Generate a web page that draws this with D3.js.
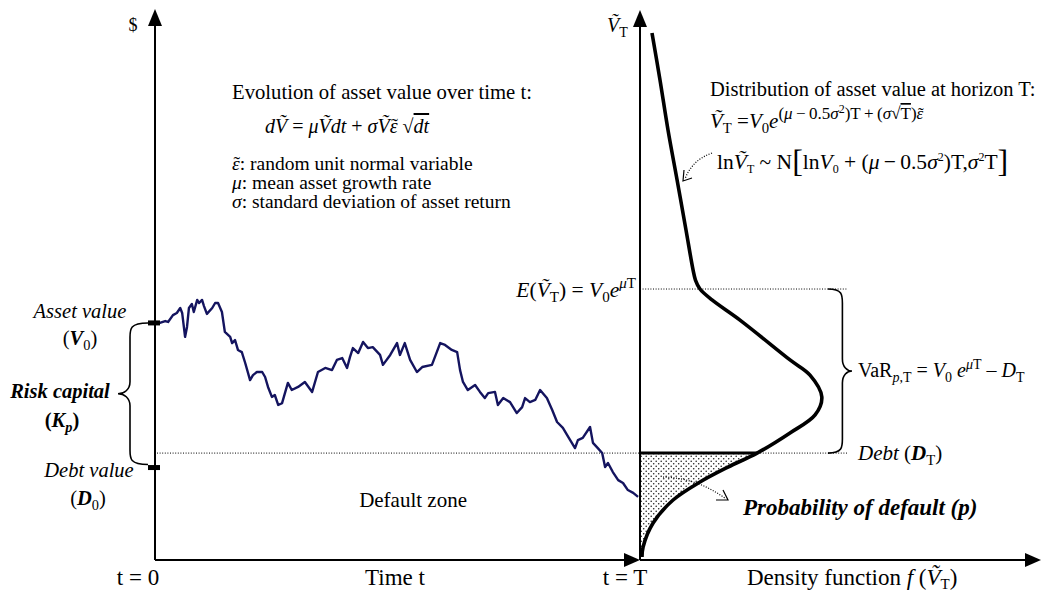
<!DOCTYPE html>
<html>
<head>
<meta charset="utf-8">
<script src="https://cdn.jsdelivr.net/npm/d3@7"></script>
<style>
  body { margin: 0; background: #fff; }
  svg { display: block; font-family: "Liberation Serif", "Times New Roman", serif; }
</style>
</head>
<body>
<svg id="chart" width="1043" height="594"></svg>
<script>
// asset value path over time (t as share of horizon T, value with V0 = 100)
const walkT = [0.004, 0.010, 0.021, 0.027, 0.037, 0.045, 0.052, 0.056, 0.062, 0.066, 0.070, 0.076, 0.080, 0.087, 0.091,
  0.097, 0.101, 0.107, 0.118, 0.124, 0.130, 0.138, 0.144, 0.155, 0.159, 0.165, 0.171, 0.179, 0.186, 0.196, 0.202, 0.210,
  0.221, 0.227, 0.233, 0.241, 0.247, 0.254, 0.262, 0.274, 0.282, 0.295, 0.309, 0.324, 0.336, 0.351, 0.365, 0.375, 0.386,
  0.396, 0.402, 0.408, 0.419, 0.429, 0.439, 0.449, 0.464, 0.470, 0.485, 0.499, 0.505, 0.515, 0.526, 0.540, 0.551, 0.571,
  0.588, 0.598, 0.612, 0.623, 0.629, 0.635, 0.645, 0.660, 0.670, 0.680, 0.687, 0.701, 0.707, 0.718, 0.732, 0.746, 0.757,
  0.763, 0.773, 0.784, 0.794, 0.808, 0.819, 0.829, 0.841, 0.852, 0.866, 0.872, 0.882, 0.897, 0.903, 0.913, 0.922, 0.928,
  0.934, 0.944, 0.955, 0.965, 0.975, 0.986, 0.996];
const walkV = [100.0, 100.0, 100.8, 100.4, 103.3, 104.2, 106.3, 104.2, 94.1, 98.3, 106.3, 108.0, 104.6, 109.7, 108.4,
  109.7, 107.1, 103.8, 106.3, 108.4, 108.4, 104.6, 96.2, 94.1, 91.5, 92.8, 88.6, 87.7, 83.1, 75.9, 78.0, 79.3,
  79.3, 77.2, 73.0, 68.8, 69.6, 65.4, 66.2, 74.7, 71.7, 73.0, 75.1, 70.9, 79.3, 81.0, 80.1, 84.4, 85.2,
  81.0, 85.6, 89.4, 87.3, 92.0, 89.4, 89.8, 86.5, 82.3, 86.5, 91.5, 86.5, 91.5, 84.4, 79.3, 81.4, 82.3,
  91.5, 90.7, 88.6, 87.7, 80.1, 75.1, 71.7, 73.8, 70.9, 68.3, 70.4, 70.9, 65.4, 68.3, 66.6, 62.0, 64.5,
  68.3, 66.6, 67.5, 71.7, 68.3, 63.3, 58.2, 55.7, 51.9, 47.2, 50.6, 51.5, 56.1, 49.4, 47.2, 45.1, 39.2,
  40.9, 37.1, 33.7, 32.5, 29.5, 28.3, 26.6];

// density of the asset value at horizon T (value level -> density, peak = 1)
const densV = [1.3, 5.5, 15.6, 25.3, 32.9, 39.2, 45.1, 53.6, 61.2, 68.8, 78.0, 84.4, 101.2, 109.7, 114.3, 118.1, 122.3, 139.2, 160.3, 181.4, 202.5, 222.3];
const densF = [0.011, 0.017, 0.072, 0.182, 0.330, 0.484, 0.644, 0.825, 0.963, 1.000, 0.935, 0.825, 0.550, 0.396, 0.330, 0.305, 0.292, 0.253, 0.204, 0.154, 0.110, 0.066];

// key levels
const V0 = 100, D0 = 39, DT = 45.1, EVT = 114.3, VMAX = 232;

const svg = d3.select('#chart');
svg.append('rect').attr('width', 1043).attr('height', 594).attr('fill', '#fff');

const xT = d3.scaleLinear().domain([0, 1]).range([155, 640]);
const yV = d3.scaleLinear().domain([0, VMAX]).range([560, 10]);
const xD = d3.scaleLinear().domain([0, 2.2]).range([640, 1040]);

const walk = walkT.map((t, i) => ({ t, v: walkV[i] }));
const dens = densV.map((v, i) => ({ v, f: densF[i] }));

// stipple pattern for the default probability
const defs = svg.append('defs');
const pat = defs.append('pattern').attr('id', 'dots').attr('patternUnits', 'userSpaceOnUse')
  .attr('width', 5).attr('height', 5);
pat.append('circle').attr('cx', 1.2).attr('cy', 1.2).attr('r', 0.8).attr('fill', '#222');
pat.append('circle').attr('cx', 3.7).attr('cy', 3.7).attr('r', 0.8).attr('fill', '#222');

const curve = d3.curveCatmullRom.alpha(0.5);

// default area
svg.append('path')
  .datum(dens.filter(d => d.v <= DT))
  .attr('d', d3.area().curve(curve).y(d => yV(d.v)).x0(xD(0)).x1(d => xD(d.f)))
  .attr('fill', 'url(#dots)');

// dotted reference lines
const dotted = (x1, x2, y) => svg.append('line').attr('x1', x1).attr('x2', x2).attr('y1', y).attr('y2', y)
  .attr('stroke', '#000').attr('stroke-width', 1).attr('stroke-dasharray', '1,1.6');
dotted(xT(0) + 2, 848, yV(DT));
dotted(xD(0), 848, yV(EVT));

const fDebt = dens.find(d => d.v === DT).f;
svg.append('line').attr('x1', xD(0)).attr('x2', xD(fDebt)).attr('y1', yV(DT)).attr('y2', yV(DT))
  .attr('stroke', '#000').attr('stroke-width', 3);

// asset path
svg.append('path')
  .datum(walk)
  .attr('d', d3.line().x(d => xT(d.t)).y(d => yV(d.v)))
  .attr('fill', 'none').attr('stroke', '#14145f').attr('stroke-width', 2.4).attr('stroke-linejoin', 'round');

// density curve
svg.append('path')
  .datum(dens)
  .attr('d', d3.line().curve(curve).x(d => xD(d.f)).y(d => yV(d.v)))
  .attr('fill', 'none').attr('stroke', '#000').attr('stroke-width', 3.6);

// axes
const axis = (x1, y1, x2, y2) => svg.append('line').attr('x1', x1).attr('y1', y1).attr('x2', x2).attr('y2', y2)
  .attr('stroke', '#000').attr('stroke-width', 2);
axis(xT(0), yV(0), xT(0), yV(VMAX) + 10);
axis(xD(0), yV(0), xD(0), yV(VMAX) + 10);
axis(xT(0), yV(0), xT(1) - 10, yV(0));
axis(xD(0), yV(0), xD(2.2) - 10, yV(0));

const tri = pts => svg.append('polygon').attr('points', pts.map(p => p.join(',')).join(' ')).attr('fill', '#000');
const upArrow = (x, y) => tri([[x, y], [x - 7, y + 17], [x + 7, y + 17]]);
const rightArrow = (x, y) => tri([[x, y], [x - 16, y - 7], [x - 16, y + 7]]);
upArrow(xT(0), yV(VMAX) - 1);
upArrow(xD(0), yV(VMAX));
rightArrow(xT(1), yV(0));
rightArrow(xD(2.2) + 1, yV(0));

// markers for V0 and D0
[V0, D0].forEach(v => svg.append('rect').attr('x', xT(0) - 7).attr('y', yV(v) - 2.5)
  .attr('width', 12).attr('height', 5).attr('fill', '#000'));

// braces
function brace(x, y1, y2, w) {
  const s = x + 0.6 * w, ym = (y1 + y2) / 2;
  return `M${x},${y1} C${s},${y1} ${s},${y1 + 6} ${s},${y1 + 14} L${s},${ym - 12}
    C${s},${ym - 4} ${x + 0.8 * w},${ym} ${x + w},${ym} C${x + 0.8 * w},${ym} ${s},${ym + 4} ${s},${ym + 12}
    L${s},${y2 - 14} C${s},${y2 - 6} ${s},${y2} ${x},${y2}`;
}
svg.append('path').attr('d', brace(148, yV(V0), yV(D0) - 3, -30))
  .attr('fill', 'none').attr('stroke', '#000').attr('stroke-width', 1.6);
svg.append('path').attr('d', brace(828, yV(EVT), yV(DT), 24))
  .attr('fill', 'none').attr('stroke', '#000').attr('stroke-width', 1.6);

// dotted annotation arrows
const dotArrow = (d, tip, a, b) => {
  svg.append('path').attr('d', d).attr('fill', 'none').attr('stroke', '#000')
    .attr('stroke-width', 1.2).attr('stroke-dasharray', '1,1.6');
  svg.append('path').attr('d', `M${a[0]},${a[1]} L${tip[0]},${tip[1]} L${b[0]},${b[1]}`)
    .attr('fill', 'none').attr('stroke', '#000').attr('stroke-width', 1.2);
};
dotArrow('M663,477 Q698,478 726,499', [728, 500], [716, 500], [723, 490]);
dotArrow('M712,153 Q692,160 685,179', [683, 181], [684, 170], [692, 178]);

// rich text helper: italic, bold, sub/superscript, overline and a tilde accent
function rich(x, y, parts, size, anchor) {
  const t = svg.append('text').attr('x', x).attr('y', y)
    .attr('font-size', size).attr('text-anchor', anchor || 'start').attr('fill', '#000');
  let cur = 0, pend = 0;
  parts.forEach(p => {
    const s = typeof p === 'string' ? p : p[0];
    const o = typeof p === 'string' ? {} : p[1];
    const shift = o.dy != null ? o.dy : o.sub ? size * 0.25 : o.sup ? -size * 0.4 : 0;
    const ts = t.append('tspan').text(s).attr('dy', shift - cur);
    if (pend) ts.attr('dx', pend);
    pend = 0;
    cur = shift;
    if (o.i) ts.attr('font-style', 'italic');
    if (o.b) ts.attr('font-weight', 'bold');
    const fs = o.fs || ((o.sub || o.sup) ? size * 0.7 : null);
    if (fs) ts.attr('font-size', fs);
    if (o.ol) ts.attr('text-decoration', 'overline');
    if (o.tilde) {
      const wb = ts.node().getComputedTextLength();
      const tt = t.append('tspan').text('\u02dc').attr('dy', 0);
      if (fs) tt.attr('font-size', fs);
      const wt = tt.node().getComputedTextLength();
      const k = (fs || size) * 0.05;
      tt.attr('dx', -wb / 2 - wt / 2 + k);
      pend = wb / 2 - wt / 2 - k;
    }
  });
  return t;
}
const VT = 'V\u0303';
const eps = o => ['\u03b5', Object.assign({ i: 1, tilde: 1 }, o || {})];

// axis labels
rich(133, 31, ['$'], 18, 'middle');
rich(607, 32, [[VT, { i: 1 }], ['T', { sub: 1 }]], 20);
rich(138, 585, ['t = 0'], 23, 'middle');
rich(395, 585, ['Time t'], 23, 'middle');
rich(625, 585, ['t = T'], 23, 'middle');
rich(747, 585, ['Density function ', ['f', { i: 1 }], ' (', [VT, { i: 1 }], ['T', { dy: 4, fs: 15 }], ')'], 23);

// left-hand labels
rich(80, 318, [['Asset value', { i: 1 }]], 20.5, 'middle');
rich(80, 345, ['(', ['V', { i: 1, b: 1 }], ['0', { sub: 1 }], ')'], 20.5, 'middle');
rich(60, 398, [['Risk capital', { i: 1, b: 1 }]], 20.5, 'middle');
rich(62, 427, [['(', { b: 1 }], ['K', { i: 1, b: 1 }], ['p', { sub: 1, i: 1, b: 1 }], [')', { b: 1 }]], 20.5, 'middle');
rich(89, 477, [['Debt value', { i: 1 }]], 20.5, 'middle');
rich(88, 505, ['(', ['D', { i: 1, b: 1 }], ['0', { sub: 1 }], ')'], 20.5, 'middle');
rich(467, 507, ['Default zone'], 21, 'end');

// evolution block
rich(232, 99, ['Evolution of asset value over time t:'], 20.7);
rich(265, 133, [['d', { i: 1 }], [VT, { i: 1 }], ' = ', ['\u03bc', { i: 1 }], [VT, { i: 1 }], ['dt', { i: 1 }], ' + ',
  ['\u03c3', { i: 1 }], [VT, { i: 1 }], eps(), ' \u221a', ['dt', { i: 1, ol: 1 }]], 20);
rich(232, 170, [eps(), ': random unit normal variable'], 19.5);
rich(232, 189, [['\u03bc', { i: 1 }], ': mean asset growth rate'], 19.5);
rich(232, 208, [['\u03c3', { i: 1 }], ': standard deviation of asset return'], 19.5);

// distribution block
rich(710, 96, ['Distribution of asset value at horizon T:'], 20.5);
const ex = { dy: -9, fs: 17 };
rich(710, 128, [[VT, { i: 1 }], ['T', { sub: 1 }], ' =', ['V', { i: 1 }], ['0', { sub: 1 }], ['e', { i: 1 }],
  ['(', ex], ['\u03bc', { ...ex, i: 1 }], ['\u2009\u2212\u20090.5', ex], ['\u03c3', { ...ex, i: 1 }], ['2', { dy: -15, fs: 12 }],
  [')T\u2009+\u2009(', ex], ['\u03c3', { ...ex, i: 1 }], ['\u221a', ex], ['T', { ...ex, ol: 1 }], [')', ex], eps(ex)], 21);
rich(717, 169, ['ln', [VT, { i: 1 }], ['T', { dy: 4, fs: 12 }], ' ~ N', ['[', { fs: 32, dy: 3 }], 'ln', ['V', { i: 1 }],
  ['0', { dy: 4, fs: 12 }], ' + (', ['\u03bc', { i: 1 }], '\u2009\u2212\u20090.5', ['\u03c3', { i: 1 }], ['2', { dy: -8, fs: 12 }],
  ')T,', ['\u03c3', { i: 1 }], ['2', { dy: -8, fs: 12 }], 'T', [']', { fs: 32, dy: 3 }]], 21.5);

// expectation, VaR and debt at horizon
rich(636, 297, [['E', { i: 1 }], '(', [VT, { i: 1 }], ['T', { sub: 1 }], ') = ', ['V', { i: 1 }], ['0', { sub: 1 }],
  ['e', { i: 1 }], ['\u03bc', { sup: 1, i: 1 }], ['T', { sup: 1 }]], 21.5, 'end');
rich(858, 377, ['VaR', ['p', { sub: 1, i: 1 }], [',T', { sub: 1 }], ' = ', ['V', { i: 1 }], ['0', { sub: 1 }], ' ',
  ['e', { i: 1 }], ['\u03bc', { sup: 1, i: 1 }], ['T', { sup: 1 }], ' \u2013 ', ['D', { i: 1 }], ['T', { sub: 1 }]], 20);
rich(858, 460, [['Debt', { i: 1 }], ' (', ['D', { i: 1, b: 1 }], ['T', { sub: 1 }], ')'], 21);

rich(743, 515, [['Probability of default (', { i: 1, b: 1 }], ['p', { i: 1, b: 1 }], [')', { i: 1, b: 1 }]], 23);
</script>
</body>
</html>
